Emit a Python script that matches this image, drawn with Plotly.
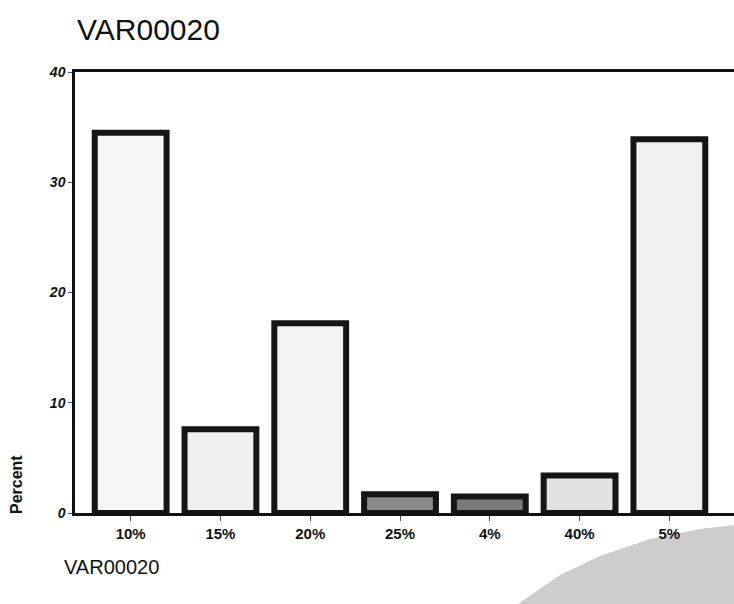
import plotly.graph_objects as go

# Frequency chart of VAR00020 (percent of cases per category)
categories = ["10%", "15%", "20%", "25%", "4%", "40%", "5%"]
percent = [34.5, 7.6, 17.2, 1.7, 1.5, 3.4, 33.9]
bar_fill = ["#f6f6f6", "#efefef", "#f3f3f3", "#8a8a8a", "#7a7a7a", "#e2e2e2", "#f1f1f1"]
y_ticks = [0, 10, 20, 30, 40]

FONT = "Liberation Sans, Arial, sans-serif"

fig = go.Figure(
    go.Bar(
        x=categories,
        y=percent,
        marker=dict(color=bar_fill, line=dict(color="#151515", width=6)),
        width=0.8,
        hoverinfo="x+y",
    )
)

# Grey wash over the lower-right corner
L, R, T, B, W, H = 75, 734, 72, 513, 659, 441
def px(x, y):
    return (x - L) / W, (B - y) / H
blob = [(518, 604), (560, 575), (600, 556), (650, 539), (700, 529), (734, 525), (734, 604)]
path = "M " + " L ".join(f"{px(x, y)[0]:.4f},{px(x, y)[1]:.4f}" for x, y in blob) + " Z"

fig.update_layout(
    width=734,
    height=604,
    margin=dict(l=L, r=0, t=T, b=604 - B),
    paper_bgcolor="white",
    plot_bgcolor="white",
    showlegend=False,
    font=dict(family=FONT, color="#111"),
    shapes=[
        dict(type="path", path=path, xref="paper", yref="paper",
             fillcolor="#cdcdcd", line=dict(width=0), layer="below"),
    ],
    annotations=[
        dict(text="VAR00020", xref="paper", yref="paper", x=px(75, 0)[0], y=px(0, 30)[1],
             xanchor="left", yanchor="middle", showarrow=False,
             font=dict(size=30, family=FONT, color="#111")),
        dict(text="<b>Percent</b>", xref="paper", yref="paper", x=px(16, 0)[0], y=px(0, 485)[1],
             textangle=-90, xanchor="center", yanchor="middle", showarrow=False,
             font=dict(size=16, family=FONT, color="#111")),
        dict(text="VAR00020", xref="paper", yref="paper", x=px(62, 0)[0], y=px(0, 567)[1],
             xanchor="left", yanchor="middle", showarrow=False,
             font=dict(size=20, family=FONT, color="#111")),
    ],
)

fig.update_xaxes(
    range=[-0.62, 6.72],
    showline=True, linecolor="#111", linewidth=2.5, mirror=True,
    ticks="outside", ticklen=5, tickcolor="#555", tickwidth=1,
    showgrid=False, zeroline=False,
    tickfont=dict(size=15, family=FONT, color="#111", weight="bold"),
)
fig.update_yaxes(
    range=[0, 40],
    tickvals=y_ticks,
    showline=True, linecolor="#111", linewidth=2.5, mirror=False,
    ticks="outside", ticklen=4, tickcolor="#555", tickwidth=1,
    showgrid=False, zeroline=False,
    tickfont=dict(size=14, family=FONT, color="#111", weight="bold", style="italic"),
)

fig.write_html("out.html")
